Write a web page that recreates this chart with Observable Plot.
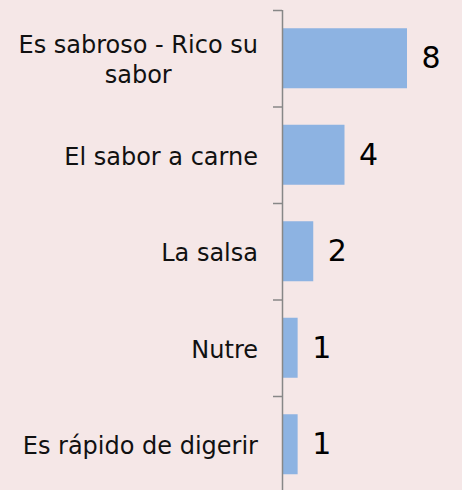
<!DOCTYPE html>
<html>
<head>
<meta charset="utf-8">
<script src="https://cdn.jsdelivr.net/npm/d3@7"></script>
<script src="https://cdn.jsdelivr.net/npm/@observablehq/plot@0.6"></script>
<style>
  html, body { margin: 0; padding: 0; background: #f5e7e7; overflow: hidden; }
  #chart svg { display: block; }
</style>
</head>
<body>
<div id="chart"></div>
<script>
const categories = [
  "Es sabroso - Rico su\nsabor",
  "El sabor a carne",
  "La salsa",
  "Nutre",
  "Es rápido de digerir"
];
const values = [8, 4, 2, 1, 1];
const boundaries = [0, 1, 2, 3, 4, 5];

const data = categories.map((c, i) => ({label: c, value: values[i], i}));

const chart = Plot.plot({
  width: 462,
  height: 490,
  marginLeft: 282,
  marginRight: 23.75,
  marginTop: 10,
  marginBottom: -2.5,
  style: {background: "#f5e7e7", fontFamily: "DejaVu Sans, Verdana, sans-serif"},
  x: {domain: [0, 10], axis: null},
  y: {domain: [0, 5], reverse: true, axis: null},
  marks: [
    Plot.rectX(data, {x1: 0, x2: "value", y1: d => d.i, y2: d => d.i + 1, insetTop: 18.25, insetBottom: 18.25, fill: "#8db3e2"}),
    Plot.ruleX([0], {stroke: "#878787", strokeWidth: 1.5}),
    Plot.axisY({anchor: "left", ticks: boundaries, tickSize: 9, tickFormat: () => "", stroke: "#878787", strokeWidth: 1.5}),
    Plot.text(data, {x: 0, y: d => d.i + 0.5, text: "label", textAnchor: "end", dx: -24.5, fontSize: 24, lineHeight: 1.25, fill: "#111", className: "cat-labels"}),
    Plot.text(data, {x: "value", y: d => d.i + 0.5, text: d => String(d.value), textAnchor: "start", dx: 14, fontSize: 30, fill: "#000"})
  ]
});
document.getElementById("chart").appendChild(chart);

// center multi-line category labels within their block (right edge kept)
chart.querySelectorAll("g.cat-labels text").forEach(t => {
  if (t.querySelectorAll("tspan").length > 1) {
    const w = t.getBBox().width;
    t.setAttribute("text-anchor", "middle");
    const tr = t.getAttribute("transform") || "";
    t.setAttribute("transform", tr + ` translate(${-w / 2},0)`);
  }
});
</script>
</body>
</html>
